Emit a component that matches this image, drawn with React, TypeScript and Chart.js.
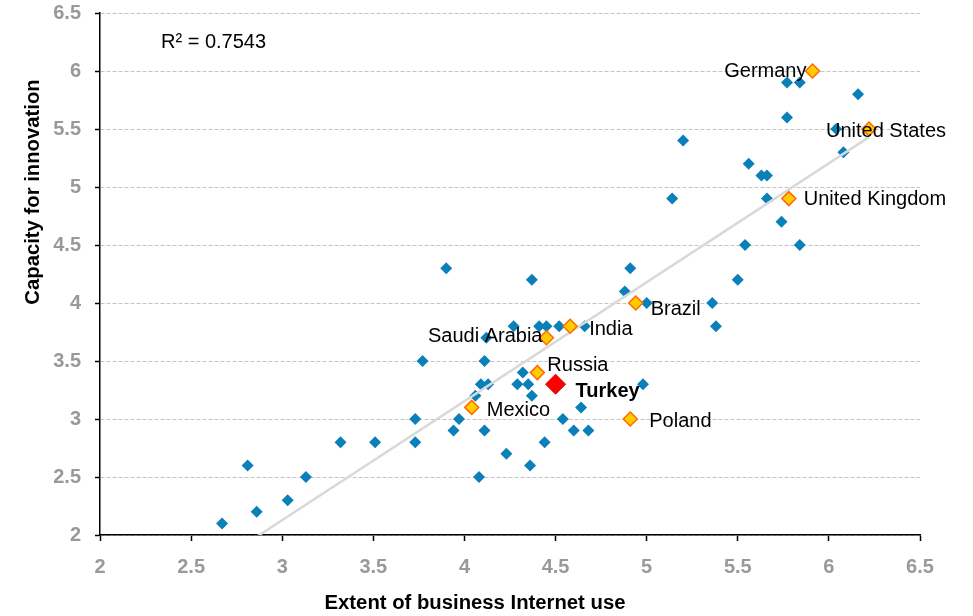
import React, { useEffect, useRef } from "react";
import { Chart, registerables } from "chart.js";

Chart.register(...registerables);

// ---- data ----
const blueX = [2.67, 2.81, 2.86, 3.03, 3.13, 3.32, 3.51, 3.73, 3.73, 3.77, 3.9, 3.94, 3.97, 4.06, 4.08, 4.09, 4.13, 4.11, 4.11, 4.12, 4.23, 4.27, 4.29, 4.32, 4.35, 4.36, 4.37, 4.37, 4.41, 4.44, 4.45, 4.52, 4.54, 4.6, 4.64, 4.66, 4.68, 4.88, 4.91, 4.98, 5.0, 5.14, 5.2, 5.36, 5.38, 5.5, 5.54, 5.56, 5.63, 5.66, 5.66, 5.74, 5.77, 5.77, 5.84, 5.84, 6.04, 6.08, 6.16];
const blueY = [2.1, 2.6, 2.2, 2.3, 2.5, 2.8, 2.8, 2.8, 3.0, 3.5, 4.3, 2.9, 3.0, 3.2, 2.5, 3.3, 3.3, 2.9, 3.5, 3.7, 2.7, 3.8, 3.3, 3.4, 3.3, 2.6, 3.2, 4.2, 3.8, 2.8, 3.8, 3.8, 3.0, 2.9, 3.1, 3.8, 2.9, 4.1, 4.3, 3.3, 4.0, 4.9, 5.4, 4.0, 3.8, 4.2, 4.5, 5.2, 5.1, 5.1, 4.9, 4.7, 5.6, 5.9, 5.9, 4.5, 5.5, 5.3, 5.8];

const countryNames = ["Germany", "United States", "United Kingdom", "Brazil", "India", "Saudi Arabia", "Russia", "Mexico", "Poland"];
const countryX = [5.91, 6.22, 5.78, 4.94, 4.58, 4.45, 4.4, 4.04, 4.91];
const countryY = [6.0, 5.5, 4.9, 4.0, 3.8, 3.7, 3.4, 3.1, 3.0];

const focusName = "Turkey";
const focusX = [4.5];
const focusY = [3.3];

const trendX = [2.67, 6.22];
const trendY = [1.79, 5.43];

const xTickLabels = ["2", "2.5", "3", "3.5", "4", "4.5", "5", "5.5", "6", "6.5"];
const yTickLabels = ["2", "2.5", "3", "3.5", "4", "4.5", "5", "5.5", "6", "6.5"];

const r2Text = "R² = 0.7543";
const xTitle = "Extent of business Internet use";
const yTitle = "Capacity for innovation";

// ---- label layout (offsets in px from the point) ----
const labelLayout: Record<string, { dx: number; dy: number; align: CanvasTextAlign }> = {
  Germany: { dx: -6, dy: 0, align: "right" },
  "United States": { dx: -43, dy: 2, align: "left" },
  "United Kingdom": { dx: 15, dy: 1, align: "left" },
  Brazil: { dx: 15, dy: 6, align: "left" },
  India: { dx: 19, dy: 3, align: "left" },
  "Saudi Arabia": { dx: -4, dy: -1, align: "right" },
  Russia: { dx: 10, dy: -7, align: "left" },
  Mexico: { dx: 15, dy: 3, align: "left" },
  Poland: { dx: 19, dy: 2, align: "left" },
  Turkey: { dx: 20, dy: 7, align: "left" },
};

const FONT = "'Liberation Sans', Arial, sans-serif";

const toXY = (xs: number[], ys: number[]) => xs.map((x, i) => ({ x, y: ys[i] }));

const textPlugin = {
  id: "texts",
  afterDatasetsDraw(chart: any) {
    const ctx = chart.ctx;
    const xs = chart.scales.x;
    const ys = chart.scales.y;
    ctx.save();
    ctx.fillStyle = "#000";
    ctx.textBaseline = "middle";
    ctx.font = `20px ${FONT}`;
    countryNames.forEach((name, i) => {
      const l = labelLayout[name];
      ctx.textAlign = l.align;
      ctx.fillText(name, xs.getPixelForValue(countryX[i]) + l.dx, ys.getPixelForValue(countryY[i]) + l.dy);
    });
    const tl = labelLayout[focusName];
    ctx.font = `bold 20px ${FONT}`;
    ctx.textAlign = tl.align;
    ctx.fillText(focusName, xs.getPixelForValue(focusX[0]) + tl.dx, ys.getPixelForValue(focusY[0]) + tl.dy);

    // R²
    ctx.font = `20px ${FONT}`;
    ctx.textAlign = "left";
    ctx.fillText(r2Text, 161, 42);

    // axis titles
    ctx.font = `bold 20.3px ${FONT}`;
    ctx.textAlign = "center";
    ctx.fillText(xTitle, 475, 603);
    ctx.translate(33, 192);
    ctx.rotate(-Math.PI / 2);
    ctx.fillText(yTitle, 0, 0);
    ctx.restore();
  },
};

export default function App() {
  const ref = useRef<HTMLCanvasElement | null>(null);
  useEffect(() => {
    if (!ref.current) return;
    const chart = new Chart(ref.current, {
      type: "scatter",
      data: {
        datasets: [
          {
            label: "countries",
            data: toXY(blueX, blueY),
            pointStyle: "rectRot",
            pointRadius: 6,
            backgroundColor: "#0b7fb9",
            borderColor: "#0b7fb9",
            borderWidth: 0,
            order: 4,
          },
          {
            label: "trend",
            data: toXY(trendX, trendY),
            showLine: true,
            pointRadius: 0,
            borderColor: "#d9d9d9",
            borderWidth: 2.5,
            clip: 0,
            order: 3,
          },
          {
            label: "highlight",
            data: toXY(countryX, countryY),
            pointStyle: "rectRot",
            pointRadius: 7,
            backgroundColor: "#ffcc00",
            borderColor: "#ff6a00",
            borderWidth: 1.5,
            order: 2,
          },
          {
            label: focusName,
            data: toXY(focusX, focusY),
            pointStyle: "rectRot",
            pointRadius: 10,
            backgroundColor: "#ff0000",
            borderColor: "#d40000",
            borderWidth: 1,
            order: 1,
          },
        ],
      } as any,
      options: {
        responsive: false,
        animation: false,
        devicePixelRatio: 1,
        layout: { padding: { top: 13, right: 53, left: 0, bottom: 0 } },
        plugins: { legend: { display: false }, tooltip: { enabled: false } },
        scales: {
          x: {
            type: "linear",
            min: 2,
            max: 6.5,
            afterFit: (s: any) => {
              s.height = 81;
              s.paddingLeft = 0;
              s.paddingRight = 0;
            },
            ticks: {
              stepSize: 0.5,
              autoSkip: false,
              maxRotation: 0,
              padding: 14,
              color: "#999999",
              font: { family: FONT, size: 20, weight: "bold" },
              callback: (_v: any, i: number) => xTickLabels[i],
            },
            grid: {
              drawOnChartArea: false,
              drawTicks: true,
              tickLength: 6,
              tickColor: "#000",
              tickWidth: 1.5,
            },
            border: { display: true, color: "#000", width: 1.5 },
          },
          y: {
            type: "linear",
            min: 2,
            max: 6.5,
            afterFit: (s: any) => {
              s.width = 100;
              s.paddingTop = 0;
              s.paddingBottom = 0;
            },
            ticks: {
              stepSize: 0.5,
              autoSkip: false,
              padding: 14,
              color: "#999999",
              font: { family: FONT, size: 20, weight: "bold" },
              callback: (_v: any, i: number) => yTickLabels[i],
            },
            grid: {
              color: "#c4c4c4",
              lineWidth: 1,
              tickLength: 5,
              tickColor: "#000",
              tickWidth: 1.5,
              tickBorderDash: [],
            },
            border: { display: true, color: "#000", width: 1.5, dash: [4, 2] },
          },
        },
      } as any,
      plugins: [textPlugin],
    });
    return () => chart.destroy();
  }, []);
  return (
    <div style={{ position: "fixed", left: 0, top: 0, width: 973, height: 616, background: "#fff" }}>
      <canvas ref={ref} width={973} height={616} style={{ width: 973, height: 616, display: "block" }} />
    </div>
  );
}
